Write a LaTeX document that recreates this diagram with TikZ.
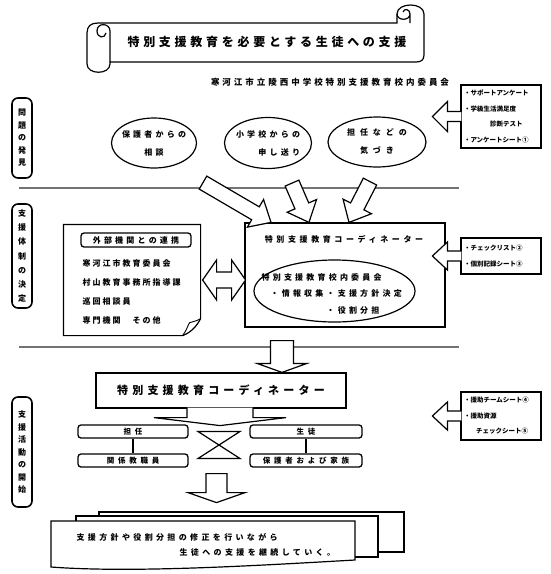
\documentclass[tikz,border=0pt]{standalone}
\usepackage{fontspec}
\setmainfont{Noto Sans CJK JP}
\usepackage{tikz}
\usetikzlibrary{calc,positioning,shapes.geometric}

\newcommand\lsfont[3]{\bfseries\fontsize{#1}{#2}\selectfont\addfontfeature{LetterSpace=#3}}
\newcommand\blockarrow[6][--cycle]{%
  \coordinate (bah) at ($(#3)!#6!(#2)$);
  \fill[white] ($(#2)!#4!90:(#3)$) -- ($(bah)!#4!90:(#3)$) -- ($(bah)!#5!90:(#3)$) -- (#3)
    -- ($(bah)!#5!-90:(#3)$) -- ($(bah)!#4!-90:(#3)$) -- ($(#2)!#4!-90:(#3)$) -- cycle;
  \draw[blk] ($(#2)!#4!90:(#3)$) -- ($(bah)!#4!90:(#3)$) -- ($(bah)!#5!90:(#3)$) -- (#3)
    -- ($(bah)!#5!-90:(#3)$) -- ($(bah)!#4!-90:(#3)$) -- ($(#2)!#4!-90:(#3)$) #1;
}

\begin{document}
\begin{tikzpicture}[x=1pt,y=-1pt,line width=1.2pt,
  every node/.style={inner sep=0pt},
  sep/.style={draw=black!55,line width=1.4pt},
  lbl/.style={draw,line width=1.6pt,rounded corners=6pt,minimum width=20pt,align=center,font=\lsfont{8}{12.5}{0}},
  bubble/.style={draw,ellipse,line width=1.2pt},
  txt/.style={font=\lsfont{8}{18}{40}},
  info/.style={draw,line width=1.2pt,text width=74pt,inner xsep=3pt,align=left,font=\lsfont{6.5}{15.5}{0}},
  tag/.style={draw,rounded corners=3pt,line width=1.3pt,font=\lsfont{8}{10}{40}},
  blk/.style={line width=1.2pt}]

  \path[use as bounding box,fill=white] (0,0) rectangle (550,574);

  \draw (110,62) -- (110,64) .. controls (110,75) and (87,75) .. (87,64) -- (87,33) .. controls (87,26) and (91,23) .. (98,23)
    -- (397,23) -- (397,14) .. controls (397,2) and (424,2) .. (424,14) -- (424,55) .. controls (424,60) and (421,62) .. (416,62) -- cycle;
  \draw (110,62) -- (110,31) .. controls (110,23) and (97,22) .. (97,31) .. controls (97,38) and (105,39) .. (106,33);
  \draw (397,14) .. controls (397,21) and (410,21) .. (410,14) .. controls (410,9) and (404,8) .. (403,12) (410,14) -- (410,23);
  \node[font=\lsfont{12}{14}{31}] (ttl) at (267,42) {特別支援教育を必要とする生徒への支援};
  \node[font=\lsfont{8.5}{10}{35}] (sub) at (330,82) {寒河江市立陵西中学校特別支援教育校内委員会};

  \node[lbl,minimum height=80pt] (lb1) at (22,138) {問\\題\\の\\発\\見};
  \node[lbl,minimum height=104pt,font=\lsfont{8}{14.2}{0}] (lb2) at (22,256) {支\\援\\体\\制\\の\\決\\定};
  \node[lbl,minimum height=110pt] (lb3) at (22,452) {支\\援\\活\\動\\の\\開\\始};

  \draw[sep] (19,188) -- (459,188);
  \draw[sep] (19,347) -- (459,347);

  \node[bubble,minimum width=85pt,minimum height=50pt] (par) at (154,143) {};
  \node[txt,align=center] (part) at (par) {保護者からの\\相談};
  \node[bubble,minimum width=87pt,minimum height=51pt] (els) at (268,143) {};
  \node[txt,align=right] (elst) at (els) {小学校からの\\申し送り};
  \node[bubble,minimum width=98pt,minimum height=50pt] (tch) at (377,142) {};
  \node[txt,align=center,font=\lsfont{8}{18}{62}] (tcht) at (tch) {担任などの\\気づき};

  \node[info,minimum height=63pt] (q1) at (501,116.5) {・サポートアンケート\\・学級生活満足度\\\hspace*{26pt}診断テスト\\・アンケートシート①};
  \coordinate (q1s) at ($(q1.west)+(1,0)$);
  \coordinate (q1e) at ($(q1.west)+(-28,0)$);
  \blockarrow[]{q1s}{q1e}{5pt}{15pt}{15pt}

  \node[minimum width=136pt,minimum height=110pt] (ext) at (132,280) {};
  \draw (ext.north west) -- (ext.north east) -- ($(ext.south east)+(0,-17)$) .. controls ($(ext.south east)+(-4,-9)$) and ($(ext.south east)+(-10,-3)$) .. ($(ext.south east)+(-18,0)$) -- (ext.south west) -- cycle;
  \draw[line width=0.9pt] ($(ext.south east)+(-18,0)$) .. controls ($(ext.south east)+(-14,-5)$) and ($(ext.south east)+(-13,-10)$) .. ($(ext.south east)+(-11,-13)$)
    .. controls ($(ext.south east)+(-7,-14)$) and ($(ext.south east)+(-3,-15)$) .. ($(ext.south east)+(0,-17)$);
  \node[tag,minimum width=110pt,minimum height=14pt] (extt) at (136,240) {外部機関との連携};
  \node[anchor=west,align=left,font=\lsfont{8}{19}{25}] (extl) at (82,291.5) {寒河江市教育委員会\\村山教育事務所指導課\\巡回相談員\\専門機関　その他};

  \node[draw,minimum width=200pt,minimum height=104pt] (crd) at (345,275) {};
  \node[draw,double,double distance=1.2pt,line width=0.8pt,minimum width=178pt,minimum height=13pt,font=\lsfont{8}{10}{45}] (crdt) at (344,239.5) {特別支援教育コーディネーター};
  \node[bubble,minimum width=161pt,minimum height=62pt] (cmt) at (334.5,291) {};
  \node[anchor=west,align=left,font=\lsfont{8}{16.5}{40}] (cmtt) at (261,293.5) {特別支援教育校内委員会\\\hspace*{9pt}・情報収集・支援方針決定\\\hspace*{65pt}・役割分担};

  \coordinate (lk) at ($(ext.east)+(2,0)$);
  \draw[fill=white] (lk) -- ++(14,-20) -- ++(0,12) -- ++(15,0) -- ++(0,-12) -- ++(14,20) -- ++(-14,20) -- ++(0,-12) -- ++(-15,0) -- ++(0,12) -- cycle;

  \coordinate (a1s) at ($(par.south)+(49,14)$);
  \coordinate (a1e) at ($(crd.north)+(-74,0)$);
  \coordinate (a2s) at ($(els.south)+(24,14)$);
  \coordinate (a2e) at ($(crd.north)+(-36,0)$);
  \coordinate (a3s) at ($(tch.south)+(-7,14)$);
  \coordinate (a3e) at ($(crd.north)+(4,0)$);
  \blockarrow{a1s}{a1e}{7.5pt}{16pt}{18pt}
  \blockarrow{a2s}{a2e}{7.5pt}{16pt}{18pt}
  \blockarrow{a3s}{a3e}{7.5pt}{16pt}{18pt}

  \node[info,minimum height=36pt] (q2) at (501,256) {・チェックリスト②\\・個別記録シート③};
  \coordinate (q2s) at ($(q2.west)+(1,0)$);
  \coordinate (q2e) at ($(q2.west)+(-28,0)$);
  \blockarrow[]{q2s}{q2e}{5pt}{14pt}{15pt}

  \node[draw,minimum width=250pt,minimum height=35pt,font=\lsfont{11}{13}{38}] (crdb) at (221,390.5) {特別支援教育コーディネーター};
  \coordinate (d1s) at ($(crd.south)+(-63,13)$);
  \coordinate (d1e) at (d1s |- crdb.north);
  \blockarrow{d1s}{d1e}{11.5pt}{25pt}{9pt}
  \coordinate (m1s) at ($(crdb.south)+(-1,-1)$);
  \coordinate (m1e) at ($(crdb.south)+(-1,17)$);
  \blockarrow[]{m1s}{m1e}{33pt}{66pt}{8pt}

  \node[tag,minimum width=110pt,minimum height=13pt,font=\lsfont{7.5}{9}{50}] (tn) at (133,431.5) {担任};
  \node[tag,minimum width=110pt,minimum height=13pt,font=\lsfont{7.5}{9}{50}] (kk) at (133,460.5) {関係教職員};
  \node[tag,minimum width=112pt,minimum height=13pt,font=\lsfont{7.5}{9}{50}] (st) at (306,431.5) {生徒};
  \node[tag,minimum width=112pt,minimum height=13pt,font=\lsfont{7.5}{9}{50}] (hk) at (306,460.5) {保護者および家族};
  \draw (tn) -- (kk);
  \draw (st) -- (hk);
  \coordinate (hg) at ($(tn.east)!0.5!(st.west)$);
  \draw ($(hg)+(-21,0)$) -- ++(42,0) -- ++(-42,27) -- ++(42,0) -- cycle;

  \node[info,minimum height=48pt] (q3) at (501,416) {・援助チームシート④\\・援助資源\\\hspace*{12pt}チェックシート⑤};
  \coordinate (q3s) at ($(q3.west)+(1,0)$);
  \coordinate (q3e) at ($(q3.west)+(-28,0)$);
  \blockarrow[]{q3s}{q3e}{5pt}{14pt}{15pt}

  \coordinate (d2s) at ($(crdb.south)+(-4.5,65)$);
  \coordinate (d2e) at ($(crdb.south)+(-4.5,94)$);
  \blockarrow{d2s}{d2e}{10.5pt}{28.5pt}{10pt}

  \draw[fill=white] (99,512) rectangle (404,552);
  \draw[fill=white] (76,516) rectangle (378,557);
  \draw[fill=white] (51,521) -- (355,521) -- (355,560) .. controls (250,566) and (130,573) .. (51,567) -- cycle;
  \node[anchor=west,align=left,font=\lsfont{8}{15}{42}] (cnt) at (76,544.5) {支援方針や役割分担の修正を行いながら\\\hspace*{103pt}生徒への支援を継続していく。};
\end{tikzpicture}
\end{document}
